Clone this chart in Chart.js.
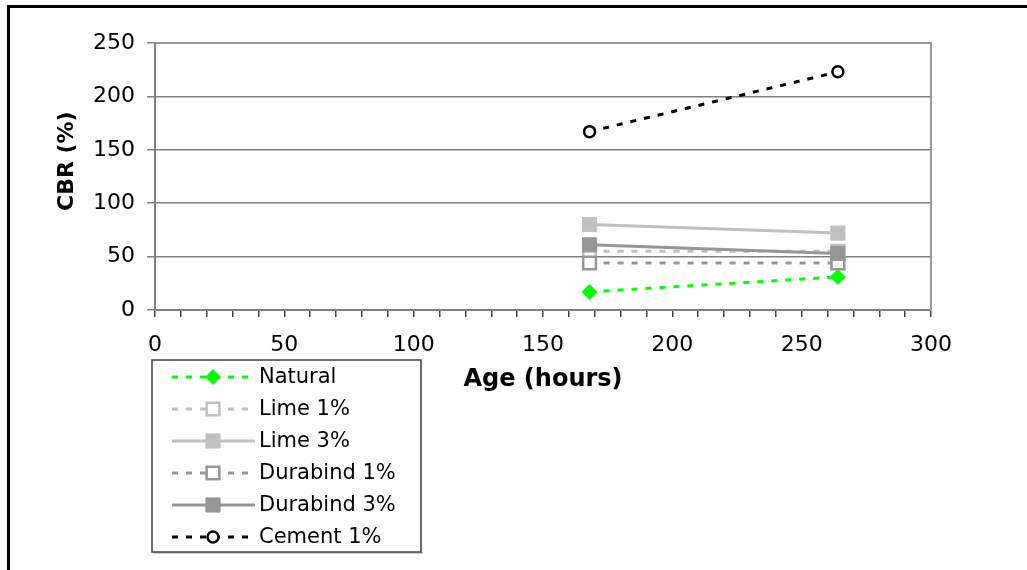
<!DOCTYPE html>
<html>
<head>
<meta charset="utf-8">
<script src="https://cdn.jsdelivr.net/npm/chart.js@4/dist/chart.umd.min.js"></script>
<style>
  html, body { margin: 0; padding: 0; background: #fff; }
  #wrap { position: relative; width: 1027px; height: 570px; }
  canvas { display: block; }
</style>
</head>
<body>
<div id="wrap"><canvas id="c" width="1027" height="570"></canvas></div>
<script>
// ---- data ----
const hours      = [168, 264];
const natural    = [17, 31];
const lime1      = [55, 55];
const lime3      = [80, 72];
const durabind1  = [44, 44];
const durabind3  = [61, 53];
const cement1    = [167, 223];
const seriesNames = ['Natural', 'Lime 1%', 'Lime 3%', 'Durabind 1%', 'Durabind 3%', 'Cement 1%'];
const xTickLabels = [0, 50, 100, 150, 200, 250, 300];
const yTickLabels = [0, 50, 100, 150, 200, 250];

const FONT = '"DejaVu Sans", Verdana, sans-serif';
const DASH = [6, 8];

function pts(vals) { return hours.map((h, i) => ({ x: h, y: vals[i] })); }

const styles = [
  { color: '#00ff00', dash: DASH, pointStyle: 'rectRot', radius: 7.5, fill: '#00ff00', bw: 1, lw: 3 },
  { color: '#c0c0c0', dash: DASH, pointStyle: 'rect', radius: 9, fill: '#ffffff', bw: 2.5, lw: 3 },
  { color: '#c0c0c0', dash: [], pointStyle: 'rect', radius: 10, fill: '#c0c0c0', bw: 1, lw: 3 },
  { color: '#969696', dash: DASH, pointStyle: 'rect', radius: 9, fill: '#ffffff', bw: 2.5, lw: 3 },
  { color: '#969696', dash: [], pointStyle: 'rect', radius: 10, fill: '#969696', bw: 1, lw: 3 },
  { color: '#000000', dash: DASH, pointStyle: 'circle', radius: 5.5, fill: '#ffffff', bw: 2.5, lw: 3 }
];
const allValues = [natural, lime1, lime3, durabind1, durabind3, cement1];

const datasets = allValues.map((vals, i) => {
  const s = styles[i];
  return {
    label: seriesNames[i],
    data: pts(vals),
    borderColor: s.color,
    backgroundColor: s.fill,
    borderWidth: s.lw,
    borderDash: s.dash,
    pointStyle: s.pointStyle,
    pointRadius: s.radius,
    pointBorderWidth: s.bw,
    pointBorderColor: s.color,
    pointBackgroundColor: s.fill,
    tension: 0,
    fill: false,
    order: 10 - i
  };
});

const framePlugin = {
  id: 'frame',
  beforeDraw(chart) {
    const ctx = chart.ctx;
    ctx.save();
    ctx.fillStyle = '#ffffff';
    ctx.fillRect(0, 0, chart.width, chart.height);
    // outer frame (top and left only, as in the reference)
    ctx.fillStyle = '#000000';
    ctx.fillRect(7, 5, chart.width - 7, 3);
    ctx.fillRect(7, 5, 3, chart.height - 5);
    ctx.restore();
  },
  afterDraw(chart) {
    const ctx = chart.ctx;
    const a = chart.chartArea;
    ctx.save();
    // plot area border (top and right)
    ctx.strokeStyle = '#999999';
    ctx.lineWidth = 2;
    ctx.beginPath();
    ctx.moveTo(a.left, a.top);
    ctx.lineTo(a.right, a.top);
    ctx.lineTo(a.right, a.bottom);
    ctx.stroke();

    // legend
    const bx = 152, by = 360, bw = 269, bh = 192;
    ctx.fillStyle = '#d0d0d0';
    ctx.fillRect(bx + 2, by + bh, bw, 2);
    ctx.fillStyle = '#ffffff';
    ctx.fillRect(bx, by, bw, bh);
    ctx.strokeStyle = '#404040';
    ctx.lineWidth = 1.5;
    ctx.strokeRect(bx, by, bw, bh);
    ctx.font = '21px ' + FONT;
    ctx.textBaseline = 'middle';
    ctx.textAlign = 'left';
    chart.data.datasets.forEach((ds, i) => {
      const y = 377 + i * 32;
      ctx.strokeStyle = ds.borderColor;
      ctx.lineWidth = ds.borderWidth;
      ctx.setLineDash(ds.borderDash);
      ctx.beginPath();
      ctx.moveTo(172, y);
      ctx.lineTo(255, y);
      ctx.stroke();
      ctx.setLineDash([]);
      ctx.fillStyle = ds.pointBackgroundColor;
      ctx.strokeStyle = ds.pointBorderColor;
      ctx.lineWidth = ds.pointBorderWidth;
      Chart.helpers.drawPoint(ctx, {
        pointStyle: ds.pointStyle, radius: ds.pointRadius, rotation: 0, borderWidth: ds.pointBorderWidth
      }, 213, y);
      ctx.fillStyle = '#000000';
      ctx.fillText(ds.label, 259, y + 1);
    });
    ctx.restore();
  }
};

new Chart(document.getElementById('c'), {
  type: 'line',
  data: { datasets },
  plugins: [framePlugin],
  options: {
    responsive: false,
    animation: false,
    events: [],
    layout: { padding: { left: 54, top: 43, right: 96, bottom: 176 } },
    plugins: { legend: { display: false }, tooltip: { enabled: false } },
    scales: {
      x: {
        type: 'linear',
        min: 0, max: 300,
        afterFit(scale) { scale.height = 84; },
        afterBuildTicks(scale) {
          const t = [];
          for (let v = 0; v <= 300; v += 10) t.push({ value: v });
          scale.ticks = t;
        },
        ticks: {
          autoSkip: false, maxRotation: 0, padding: 15,
          color: '#000000',
          font: { family: FONT, size: 22 },
          callback: (v) => xTickLabels.includes(v) ? String(v) : ''
        },
        grid: { drawOnChartArea: false, drawTicks: true, tickLength: 7, color: '#404040', tickColor: '#404040', lineWidth: 1.5 },
        border: { display: true, color: '#808080', width: 2 },
        title: { display: true, text: 'Age (hours)', color: '#000', padding: 0, font: { family: FONT, size: 24, weight: 'bold' } }
      },
      y: {
        type: 'linear',
        min: 0, max: 250,
        afterFit(scale) { scale.width = 101; },
        afterBuildTicks(scale) { scale.ticks = yTickLabels.map(v => ({ value: v })); },
        ticks: { padding: 12, color: '#000000', font: { family: FONT, size: 22 } },
        grid: { color: '#808080', lineWidth: 1.5, tickLength: 8, tickColor: '#808080' },
        border: { display: true, color: '#808080', width: 2 },
        title: { display: true, text: '    CBR (%)', color: '#000', padding: 0, font: { family: FONT, size: 22, weight: 'bold' } }
      }
    }
  }
});
</script>
</body>
</html>
